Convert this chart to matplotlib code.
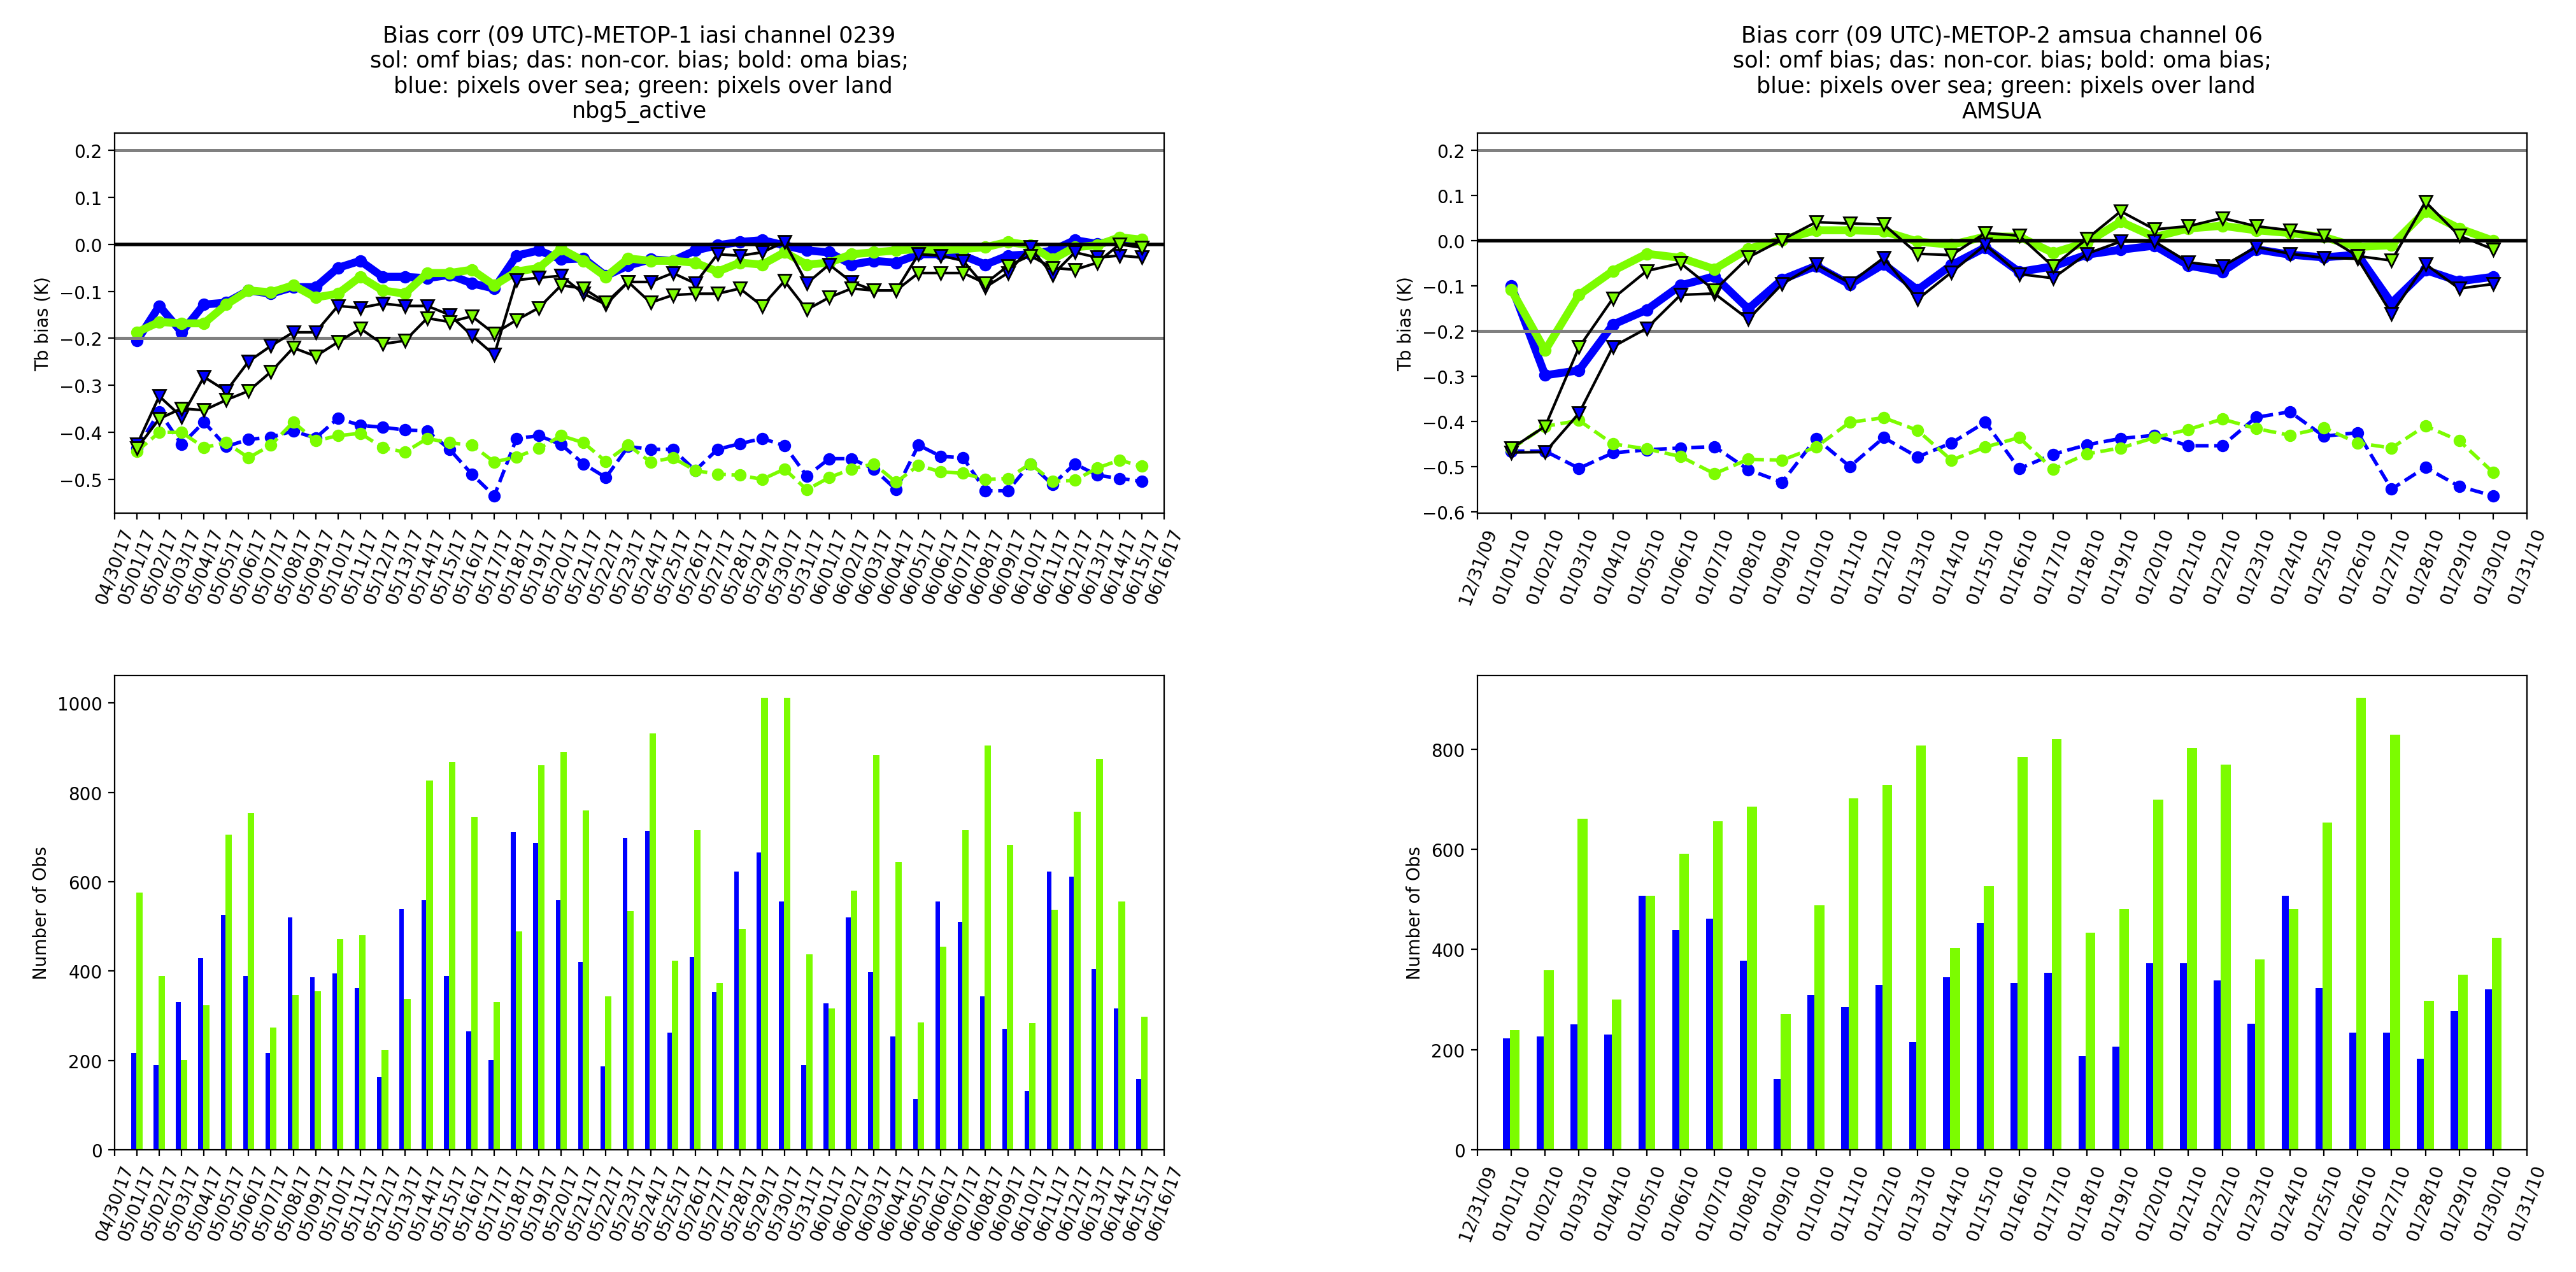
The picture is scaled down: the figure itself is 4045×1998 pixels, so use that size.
import numpy as np
import pandas as pd
import matplotlib
matplotlib.use("Agg")
import matplotlib.pyplot as plt
import matplotlib.dates as mdates

# ---- left panel: METOP-1 iasi channel 0239 (05/01/17 - 06/15/17)
dates_l = pd.date_range("2017-05-01", "2017-06-15", freq="D")

oma_sea_l = [-0.205, -0.131, -0.187, -0.128, -0.124, -0.098, -0.105, -0.091, -0.091, -0.05,
             -0.035, -0.069, -0.069, -0.072, -0.065, -0.083, -0.094, -0.024, -0.013, -0.032,
             -0.03, -0.067, -0.045, -0.032, -0.035, -0.013, -0.002, 0.005, 0.009, -0.002,
             -0.013, -0.017, -0.043, -0.035, -0.039, -0.021, -0.021, -0.024, -0.043, -0.024,
             -0.021, -0.013, 0.009, 0.001, 0.009, 0.005]
oma_land_l = [-0.187, -0.165, -0.168, -0.168, -0.128, -0.098, -0.102, -0.087, -0.113, -0.105,
              -0.069, -0.098, -0.105, -0.061, -0.061, -0.054, -0.087, -0.058, -0.05, -0.01,
              -0.035, -0.069, -0.03, -0.035, -0.035, -0.039, -0.058, -0.039, -0.043, -0.017,
              -0.043, -0.039, -0.021, -0.017, -0.013, -0.01, -0.013, -0.01, -0.006, 0.005,
              -0.002, -0.032, -0.006, -0.002, 0.015, 0.01]
omf_sea_l = [-0.426, -0.323, -0.367, -0.282, -0.312, -0.249, -0.216, -0.187, -0.187, -0.131,
             -0.135, -0.126, -0.131, -0.131, -0.15, -0.194, -0.235, -0.076, -0.071, -0.067,
             -0.105, -0.128, -0.08, -0.08, -0.061, -0.083, -0.021, -0.024, -0.017, 0.005,
             -0.083, -0.043, -0.08, -0.098, -0.098, -0.021, -0.024, -0.035, -0.091, -0.061,
             -0.006, -0.065, -0.017, -0.028, -0.024, -0.028]
omf_land_l = [-0.434, -0.371, -0.349, -0.353, -0.331, -0.312, -0.271, -0.22, -0.238, -0.208,
              -0.179, -0.212, -0.205, -0.157, -0.165, -0.153, -0.19, -0.161, -0.135, -0.087,
              -0.094, -0.124, -0.08, -0.124, -0.108, -0.105, -0.105, -0.094, -0.131, -0.078,
              -0.139, -0.113, -0.094, -0.098, -0.098, -0.061, -0.061, -0.061, -0.083, -0.046,
              -0.024, -0.05, -0.054, -0.039, 0.0, -0.007]
nc_sea_l = [-0.434, -0.356, -0.426, -0.378, -0.43, -0.415, -0.41, -0.397, -0.412, -0.37,
            -0.385, -0.389, -0.395, -0.397, -0.436, -0.489, -0.535, -0.413, -0.407, -0.426,
            -0.467, -0.496, -0.43, -0.436, -0.436, -0.481, -0.436, -0.424, -0.413, -0.428,
            -0.493, -0.456, -0.456, -0.478, -0.522, -0.427, -0.451, -0.454, -0.524, -0.524,
            -0.467, -0.511, -0.467, -0.491, -0.498, -0.504]
nc_land_l = [-0.44, -0.4, -0.4, -0.432, -0.422, -0.454, -0.427, -0.378, -0.418, -0.407,
             -0.402, -0.432, -0.442, -0.413, -0.422, -0.427, -0.463, -0.452, -0.434, -0.407,
             -0.422, -0.462, -0.427, -0.463, -0.454, -0.481, -0.489, -0.491, -0.5, -0.478,
             -0.522, -0.496, -0.478, -0.467, -0.506, -0.47, -0.484, -0.487, -0.5, -0.498,
             -0.467, -0.504, -0.502, -0.476, -0.459, -0.472]
nobs_sea_l = [216, 189, 331, 429, 526, 389, 216, 520, 386, 395, 362, 162, 538, 559, 389, 265,
              201, 711, 687, 559, 420, 186, 698, 714, 262, 432, 353, 623, 665, 555, 189, 328,
              520, 398, 253, 114, 555, 510, 344, 271, 131, 623, 611, 405, 316, 158]
nobs_land_l = [575, 389, 201, 323, 705, 754, 274, 346, 355, 471, 480, 223, 337, 827, 868, 745,
               331, 489, 860, 890, 760, 344, 535, 932, 423, 716, 374, 495, 1011, 1011, 437, 316,
               580, 883, 644, 285, 455, 716, 905, 683, 283, 537, 756, 875, 555, 298]

# ---- right panel: METOP-2 amsua channel 06 (01/01/10 - 01/30/10)
dates_r = pd.date_range("2010-01-01", "2010-01-30", freq="D")

oma_sea_r = [-0.1, -0.298, -0.287, -0.186, -0.153, -0.099, -0.079, -0.151, -0.086, -0.056,
             -0.097, -0.052, -0.109, -0.054, -0.015, -0.069, -0.057, -0.031, -0.02, -0.011,
             -0.055, -0.069, -0.019, -0.031, -0.037, -0.031, -0.138, -0.065, -0.09, -0.08]
oma_land_r = [-0.109, -0.243, -0.12, -0.067, -0.029, -0.038, -0.063, -0.018, 0.002, 0.023,
              0.023, 0.021, -0.002, -0.009, 0.009, 0.009, -0.027, -0.004, 0.042, 0.008,
              0.027, 0.033, 0.023, 0.017, 0.008, -0.014, -0.01, 0.065, 0.027, 0.0]
omf_sea_r = [-0.469, -0.468, -0.382, -0.235, -0.194, -0.12, -0.117, -0.174, -0.096, -0.052,
             -0.094, -0.038, -0.13, -0.07, -0.009, -0.074, -0.083, -0.029, -0.002, -0.002,
             -0.048, -0.057, -0.014, -0.029, -0.038, -0.04, -0.162, -0.052, -0.106, -0.096]
omf_land_r = [-0.46, -0.411, -0.236, -0.128, -0.067, -0.05, -0.11, -0.037, 0.002, 0.041,
              0.038, 0.036, -0.029, -0.032, 0.017, 0.011, -0.057, 0.004, 0.065, 0.025,
              0.032, 0.05, 0.032, 0.023, 0.011, -0.034, -0.044, 0.086, 0.011, -0.019]
nc_sea_r = [-0.466, -0.466, -0.504, -0.47, -0.463, -0.459, -0.456, -0.507, -0.535, -0.438,
            -0.5, -0.436, -0.479, -0.448, -0.402, -0.505, -0.473, -0.452, -0.438, -0.431,
            -0.454, -0.454, -0.391, -0.379, -0.433, -0.425, -0.55, -0.502, -0.544, -0.565]
nc_land_r = [-0.461, -0.411, -0.398, -0.45, -0.461, -0.478, -0.516, -0.484, -0.486, -0.457,
             -0.402, -0.392, -0.42, -0.486, -0.457, -0.436, -0.506, -0.472, -0.459, -0.436,
             -0.418, -0.395, -0.416, -0.431, -0.414, -0.448, -0.459, -0.41, -0.443, -0.513]
nobs_sea_r = [223, 226, 250, 230, 507, 439, 461, 377, 141, 309, 285, 329, 215, 344, 453,
              333, 353, 187, 206, 372, 372, 338, 252, 507, 323, 234, 234, 182, 277, 320]
nobs_land_r = [239, 358, 661, 300, 507, 591, 656, 685, 271, 488, 702, 729, 807, 403, 526,
               785, 820, 433, 480, 699, 802, 769, 380, 480, 653, 902, 829, 298, 350, 423]

title_l = ("Bias corr (09 UTC)-METOP-1 iasi channel 0239\n"
           "sol: omf bias; das: non-cor. bias; bold: oma bias;\n"
           " blue: pixels over sea; green: pixels over land\nnbg5_active")
title_r = ("Bias corr (09 UTC)-METOP-2 amsua channel 06\n"
           "sol: omf bias; das: non-cor. bias; bold: oma bias;\n"
           " blue: pixels over sea; green: pixels over land\nAMSUA")

SEA = "b"
LAND = "lawngreen"

W, H = 4045, 1999
fig = plt.figure(figsize=(W / 200, H / 200), dpi=200)


def box(l, t, r, b):
    return [l / W, 1 - b / H, (r - l) / W, (b - t) / H]


def date_axis(ax, dates):
    x = mdates.date2num(dates)
    ax.set_xlim(x[0] - 1, x[-1] + 1)
    ax.xaxis.set_major_locator(mdates.DayLocator(interval=1))
    ax.xaxis.set_major_formatter(mdates.DateFormatter("%m/%d/%y"))
    plt.setp(ax.get_xticklabels(), rotation=70)


def bias_panel(ax, dates, nc_sea, nc_land, oma_sea, oma_land, omf_sea, omf_land, title):
    x = mdates.date2num(dates)
    ax.plot(x, nc_sea, "--o", color=SEA, lw=2, ms=6)
    ax.plot(x, nc_land, "--o", color=LAND, lw=2, ms=6)
    ax.plot(x, oma_sea, "-o", color=SEA, lw=4.5, ms=6)
    ax.plot(x, oma_land, "-o", color=LAND, lw=4.5, ms=6)
    ax.axhline(0.2, color="gray", lw=1.8)
    ax.axhline(-0.2, color="gray", lw=1.8)
    ax.axhline(0.0, color="k", lw=2)
    ax.plot(x, omf_sea, "-v", color="k", mfc=SEA, mec="k", lw=1.5, ms=7)
    ax.plot(x, omf_land, "-v", color="k", mfc=LAND, mec="k", lw=1.5, ms=7)
    ax.set_ylabel("Tb bias (K)")
    ax.set_title(title, fontsize=12.6, pad=9)
    date_axis(ax, dates)


def nobs_panel(ax, dates, sea, land):
    x = mdates.date2num(dates)
    ax.bar(x - 0.25, sea, width=0.21, align="edge", color=SEA)
    ax.bar(x - 0.04, land, width=0.29, align="edge", color=LAND)
    ax.set_ylabel("Number of Obs")
    date_axis(ax, dates)


ax1 = fig.add_axes(box(180, 210, 1828, 807))
bias_panel(ax1, dates_l, nc_sea_l, nc_land_l, oma_sea_l, oma_land_l,
           omf_sea_l, omf_land_l, title_l)
ax2 = fig.add_axes(box(2320, 210, 3968, 807))
bias_panel(ax2, dates_r, nc_sea_r, nc_land_r, oma_sea_r, oma_land_r,
           omf_sea_r, omf_land_r, title_r)
ax3 = fig.add_axes(box(180, 1062, 1828, 1807))
nobs_panel(ax3, dates_l, nobs_sea_l, nobs_land_l)
ax4 = fig.add_axes(box(2320, 1062, 3968, 1807))
nobs_panel(ax4, dates_r, nobs_sea_r, nobs_land_r)

fig.savefig("out.png", dpi=200)
